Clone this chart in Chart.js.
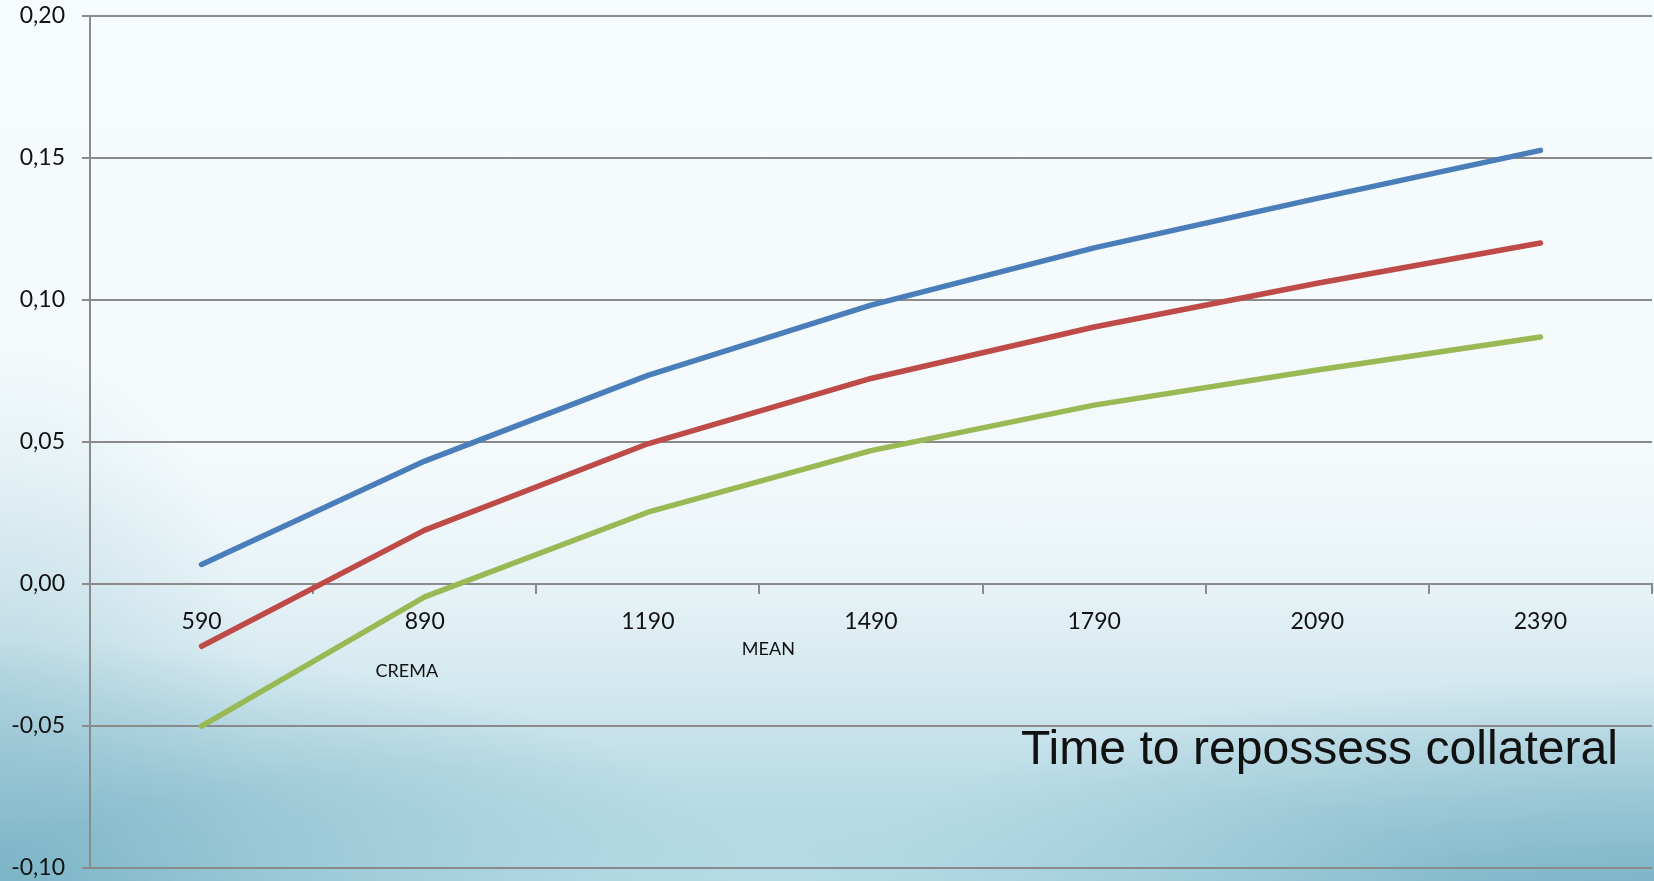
<!DOCTYPE html>
<html>
<head>
<meta charset="utf-8">
<script src="https://cdn.jsdelivr.net/npm/chart.js@4/dist/chart.umd.min.js"></script>
<style>
  html, body { margin: 0; padding: 0; }
  body {
    width: 1654px; height: 881px; overflow: hidden;
    background:
      radial-gradient(ellipse 760px 150px at 720px 905px, rgba(190,224,233,0.8) 0%, rgba(190,224,233,0) 100%),
      radial-gradient(ellipse 760px 260px at 0px 900px, rgba(105,168,189,0.75) 0%, rgba(105,168,189,0) 100%),
      radial-gradient(ellipse 820px 230px at 1654px 905px, rgba(105,168,189,0.7) 0%, rgba(105,168,189,0) 100%),
      radial-gradient(ellipse 260px 360px at 0px 700px, rgba(150,196,211,0.45) 0%, rgba(150,196,211,0) 100%),
      linear-gradient(to bottom, #f6fbfd 0%, #f4fafc 52%, #e8f3f7 66%, #d3e8ef 78%, #b9dbe5 90%, #a3cfdc 100%);
  }
  #wrap { position: absolute; left: 0; top: 0; width: 1654px; height: 881px; }
</style>
</head>
<body>
<div id="wrap"><canvas id="chart" width="1654" height="881"></canvas></div>
<script>
// Time to repossess collateral (days) and the three estimated curves
const categories = ['590', '890', '1190', '1490', '1790', '2090', '2390'];
const upperValues = [0.0067, 0.0431, 0.0733, 0.0980, 0.1182, 0.1356, 0.1525];
const meanValues  = [-0.0221, 0.0188, 0.0492, 0.0722, 0.0903, 0.1057, 0.1199];
const lowerValues = [-0.0502, -0.0047, 0.0251, 0.0468, 0.0628, 0.0752, 0.0868];
const yTicks = [-0.10, -0.05, 0.00, 0.05, 0.10, 0.15, 0.20];

const seriesColors = ['#4a7ebb', '#be4b48', '#98b954'];
const gridGray = '#8a8a8a';
const labelFont = 'Lato, "Open Sans", sans-serif';

// Free-standing captions inside the plot
const captions = {
  id: 'captions',
  afterDatasetsDraw(chart) {
    const { ctx, scales: { x, y } } = chart;
    ctx.save();
    ctx.fillStyle = '#111';
    ctx.textAlign = 'center';
    ctx.textBaseline = 'middle';
    ctx.font = '18px ' + labelFont;
    const band = x.getPixelForValue(1) - x.getPixelForValue(0);
    ctx.fillText('CREMA', x.getPixelForValue(1) - band * 0.08, y.getPixelForValue(-0.0307));
    ctx.fillText('MEAN', x.getPixelForValue(2) + band * 0.54, y.getPixelForValue(-0.0231));

    // axis title in a plain sans
    ctx.font = '49px "Liberation Sans", Arial, sans-serif';
    ctx.textAlign = 'left';
    ctx.textBaseline = 'alphabetic';
    const title = 'Time to repossess collateral';
    const w = ctx.measureText(title).width;
    const targetW = 597;
    ctx.translate(1021, 764);
    ctx.scale(targetW / w, 1);
    ctx.fillText(title, 0, 0);
    ctx.restore();
  }
};

new Chart(document.getElementById('chart'), {
  type: 'line',
  data: {
    labels: categories,
    datasets: [
      { label: 'upper', data: upperValues, borderColor: seriesColors[0] },
      { label: 'MEAN', data: meanValues, borderColor: seriesColors[1] },
      { label: 'CREMA', data: lowerValues, borderColor: seriesColors[2] }
    ].map(d => Object.assign(d, {
      borderWidth: 5.5, pointRadius: 0, tension: 0, fill: false,
      borderCapStyle: 'round', borderJoinStyle: 'round'
    }))
  },
  options: {
    responsive: false,
    animation: false,
    layout: { padding: { top: 0, bottom: 0, left: 0, right: 2 } },
    plugins: { legend: { display: false }, tooltip: { enabled: false } },
    scales: {
      x: {
        type: 'category',
        position: { y: 0 },
        offset: true,
        grid: {
          offset: true, drawOnChartArea: false, drawTicks: true,
          tickLength: 9, color: gridGray, lineWidth: 2
        },
        border: { display: true, color: gridGray, width: 2 },
        ticks: {
          color: '#111', padding: 15, maxRotation: 0, autoSkip: false,
          font: { family: labelFont, size: 23 }
        }
      },
      y: {
        min: -0.10, max: 0.20,
        afterBuildTicks(scale) { scale.ticks = yTicks.map(v => ({ value: v })); },
        afterFit(scale) {
          scale.width = 90;
          scale.paddingTop = 15.5;
          scale.paddingBottom = 13.5;
        },
        grid: { color: gridGray, lineWidth: 2, tickLength: 8 },
        border: { display: true, color: gridGray, width: 2 },
        ticks: {
          color: '#111', padding: 17,
          font: { family: labelFont, size: 23 },
          callback: v => v.toFixed(2).replace('.', ',')
        }
      }
    }
  },
  plugins: [captions]
});
</script>
</body>
</html>
